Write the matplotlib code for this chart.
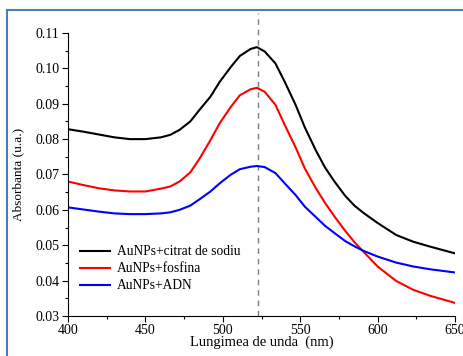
import matplotlib
matplotlib.use("Agg")
import matplotlib.pyplot as plt
from matplotlib.lines import Line2D
from matplotlib.ticker import MultipleLocator, FormatStrFormatter

plt.rcParams['font.family'] = ['Liberation Serif', 'DejaVu Serif']

wavelength = [400, 410, 420, 430, 440, 450, 460, 466, 472, 479, 485, 492, 498, 505, 511,
              518, 522, 527, 534, 540, 547, 553, 560, 566, 572, 579, 585, 591, 600, 612,
              623, 634, 650]
citrat = [0.0828, 0.0821, 0.0813, 0.0805, 0.0800, 0.0800, 0.0805, 0.0812, 0.0826, 0.0850,
          0.0883, 0.0920, 0.0962, 0.1003, 0.1035, 0.1055, 0.1060, 0.1048, 0.1014, 0.0962,
          0.0897, 0.0833, 0.0769, 0.0720, 0.0681, 0.0640, 0.0612, 0.0591, 0.0563, 0.0529,
          0.0510, 0.0496, 0.0477]
fosfina = [0.0680, 0.0670, 0.0661, 0.0655, 0.0652, 0.0652, 0.0660, 0.0666, 0.0680, 0.0706,
           0.0745, 0.0797, 0.0845, 0.0890, 0.0924, 0.0941, 0.0945, 0.0934, 0.0897, 0.0840,
           0.0777, 0.0717, 0.0662, 0.0620, 0.0582, 0.0541, 0.0509, 0.0481, 0.0440, 0.0399,
           0.0374, 0.0357, 0.0337]
adn = [0.0607, 0.0601, 0.0595, 0.0590, 0.0588, 0.0588, 0.0590, 0.0593, 0.0600, 0.0612,
       0.0630, 0.0652, 0.0675, 0.0699, 0.0715, 0.0722, 0.0724, 0.0721, 0.0704, 0.0675,
       0.0642, 0.0609, 0.0580, 0.0555, 0.0535, 0.0512, 0.0497, 0.0484, 0.0468, 0.0451,
       0.0440, 0.0432, 0.0423]
labels = ["AuNPs+citrat de sodiu", "AuNPs+fosfina", "AuNPs+ADN"]
peak_nm = 522.5

fig = plt.figure(figsize=(4.64, 3.56), dpi=100)
ax = fig.add_axes([0.1466, 0.1124, 0.834, 0.7949])

ax.plot(wavelength, citrat, color='black', lw=1.5, label=labels[0])
ax.plot(wavelength, fosfina, color='#ff0000', lw=1.5, label=labels[1])
ax.plot(wavelength, adn, color='#0000ff', lw=1.5, label=labels[2])
ax.plot([peak_nm, peak_nm], [0.03, 0.1157], color='#7f7f7f', lw=1.0,
        dashes=(4, 3.5), clip_on=False, zorder=0)

ax.set_xlim(400, 650)
ax.set_ylim(0.03, 0.11)
ax.xaxis.set_major_locator(MultipleLocator(50))
ax.xaxis.set_minor_locator(MultipleLocator(25))
ax.yaxis.set_major_locator(MultipleLocator(0.01))
ax.yaxis.set_minor_locator(MultipleLocator(0.005))
ax.yaxis.set_major_formatter(FormatStrFormatter('%.2f'))
ax.tick_params(which='major', direction='out', length=4, width=0.8, labelsize=10, pad=2)
ax.tick_params(which='minor', direction='out', length=2.5, width=0.8)
ax.spines['top'].set_visible(False)
ax.spines['right'].set_visible(False)

ax.set_xlabel("Lungimea de unda  (nm)", fontsize=10.5, labelpad=-1)
ax.set_ylabel("Absorbanta (u.a.)", fontsize=9.5, labelpad=8)

ax.legend(loc='lower left', bbox_to_anchor=(0.0, 0.04), frameon=False, fontsize=9.75,
          handlelength=2.2, handletextpad=0.5, labelspacing=0.3, borderaxespad=0.5)

border = '#4a7ebb'
fig.add_artist(Line2D([7/464, 1.0], [1 - 10/356, 1 - 10/356], color=border, lw=1.5,
                      transform=fig.transFigure))
fig.add_artist(Line2D([7/464, 7/464], [0.0, 1 - 10/356], color=border, lw=1.5,
                      transform=fig.transFigure))

fig.savefig("out.png", dpi=100)
